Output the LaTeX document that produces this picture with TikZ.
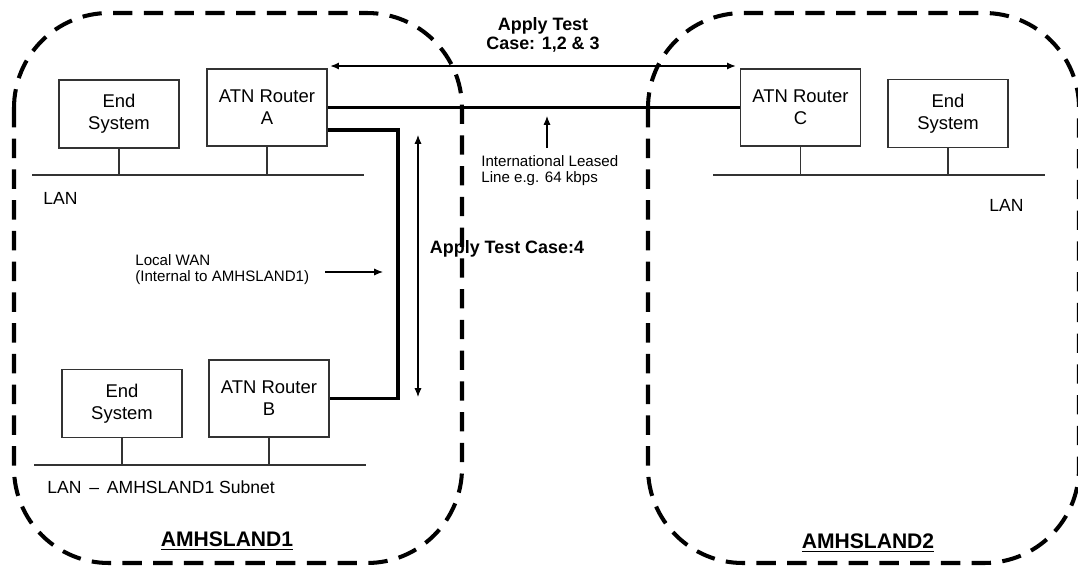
\documentclass[tikz,border=0pt]{standalone}
\usepackage{fontspec}
\setmainfont{Liberation Sans}
\usetikzlibrary{arrows.meta}

\begin{document}
\begin{tikzpicture}[x=0.02cm,y=-0.02cm,
  island/.style={line width=2.3pt,dash pattern=on 11pt off 6.5pt,rounded corners=1.9cm},
  unit/.style={draw=black!80,line width=0.6pt,align=center,inner sep=0pt,minimum width=2.4cm,font=\fontsize{10.5}{12.6}\selectfont},
  router/.style={unit,minimum height=1.54cm},
  endsys/.style={unit,minimum height=1.36cm},
  lan/.style={draw=black!80,line width=0.6pt},
  lanlbl/.style={anchor=west,inner sep=0pt,font=\fontsize{10}{12}\selectfont},
  link/.style={line width=2pt},
  note/.style={anchor=west,inner sep=0pt,align=left,font=\fontsize{8.6}{9.2}\selectfont},
  testlbl/.style={align=center,font=\fontsize{10.2}{10.8}\selectfont\bfseries},
  islandlbl/.style={font=\fontsize{12}{14}\selectfont\bfseries},
  >={Latex[length=5pt,width=4pt]}]
\useasboundingbox (0,0) rectangle (1078,565);
\draw[island] (14,13) rectangle (462,563);
\draw[island] (648,13) rectangle (1079,563);

\node[endsys] (esA) at (119,114) {End\\System};
\node[router] (rtA) at (267,107.5) {ATN Router\\A};
\node[router] (rtC) at (800.5,107.5) {ATN Router\\C};
\node[endsys] (esC) at (948,113.5) {End\\System};
\node[endsys] (esB) at (122,403.5) {End\\System};
\node[router] (rtB) at (269,398.5) {ATN Router\\B};

\coordinate (lanAw) at (32,175);
\coordinate (lanAe) at (364,175);
\coordinate (lanCw) at (713,175);
\coordinate (lanCe) at (1045,175);
\coordinate (lanBw) at (34,465);
\coordinate (lanBe) at (366,465);
\draw[lan] (lanAw) -- (lanAe);
\draw[lan] (lanCw) -- (lanCe);
\draw[lan] (lanBw) -- (lanBe);
\draw[lan] (esA.south) -- (esA.south |- lanAw);
\draw[lan] (rtA.south) -- (rtA.south |- lanAw);
\draw[lan] (rtC.south) -- (rtC.south |- lanCw);
\draw[lan] (esC.south) -- (esC.south |- lanCw);
\draw[lan] (esB.south) -- (esB.south |- lanBw);
\draw[lan] (rtB.south) -- (rtB.south |- lanBw);

\node[lanlbl] (lanAl) at (43,198) {LAN};
\node[lanlbl] (lanCl) at (989,205) {LAN};
\node[lanlbl] (lanBl) at (47,487) {LAN \,–\, AMHSLAND1 Subnet};

\coordinate (arL) at (330,66);
\coordinate (arR) at (736,66);
\draw[<->,line width=1.1pt] (arL) -- (arR);
\draw[link] (rtA.east) -- (rtC.west);
\coordinate (wanT) at (398,130);
\coordinate (wanB) at (398,398.5);
\draw[link] (rtA.east |- wanT) -- (wanT) -- (wanB) -- (rtB.east);
\coordinate (t4T) at (418,135);
\coordinate (t4B) at (418,397);
\draw[<->,line width=0.6pt] (t4T) -- (t4B);

\node[testlbl] (tc123) at (543,35) {Apply Test\\Case: 1,2 \& 3};
\node[testlbl] (tc4) at (507,249) {Apply Test Case:4};
\node[note] (leased) at (481,171) {International Leased\\Line e.g. 64 kbps};
\coordinate (lsD) at (547,148);
\coordinate (lsU) at (547,116);
\draw[->,line width=0.6pt] (lsD) -- (lsU);
\node[note] (wan) at (135,270) {Local WAN\\(Internal to AMHSLAND1)};
\coordinate (wanL) at (325,272);
\coordinate (wanR) at (383,272);
\draw[->,line width=0.6pt] (wanL) -- (wanR);

\node[islandlbl] (isl1) at (227,541) {\underline{AMHSLAND1}};
\node[islandlbl] (isl2) at (868,543) {\underline{AMHSLAND2}};
\end{tikzpicture}
\end{document}
